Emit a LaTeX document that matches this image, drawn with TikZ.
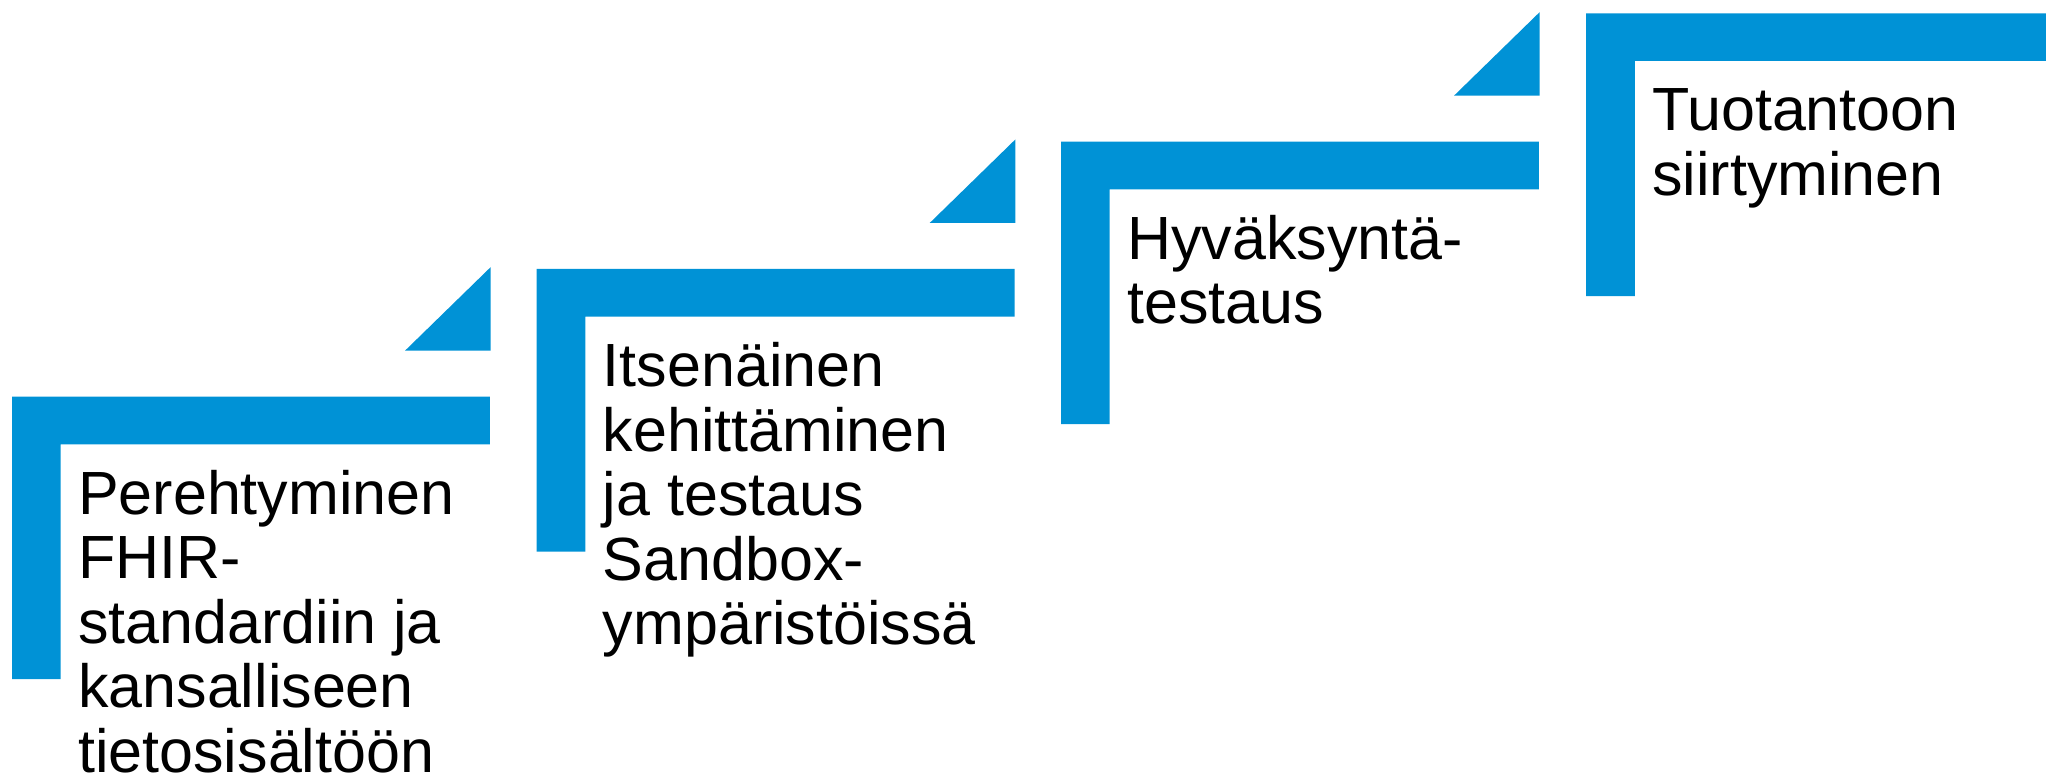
\documentclass[tikz,border=0pt]{standalone}
\usepackage{fontspec}
\setmainfont{Liberation Sans}
\definecolor{stepblue}{RGB}{0,146,214}
\begin{document}
\begin{tikzpicture}[x=1pt,y=-1pt,
  bar/.style={fill=stepblue},
  label/.style={anchor=base west, align=left, inner sep=0pt, font=\fontsize{61}{64.5}\selectfont}]
\useasboundingbox (0,0) rectangle (2046,778);
% step shapes: L-shapes and triangles
\foreach \L/\T [count=\i] in {12/396.7, 536.7/269, 1061/141.7}{
  \fill[bar] (\L,\T) -- (\L+477.8,\T) -- (\L+477.8,\T+47.6) -- (\L+48.7,\T+47.6)
     -- (\L+48.7,\T+282.5) -- (\L,\T+282.5) -- cycle;
  \fill[bar] (\L+393,\T-46) -- (\L+478.6,\T-46) -- (\L+478.6,\T-129.5) -- cycle;
}
\fill[bar] (1586,13.3) -- (2046,13.3) -- (2046,61) -- (1634.8,61) -- (1634.8,296) -- (1586,296) -- cycle;
% labels (base anchor sits on the last line's baseline)
\node[label] (s1) at (12+66,396.7+117.5+4*64.5) {Perehtyminen\\FHIR-\\standardiin ja\\kansalliseen\\tietosisältöön};
\node[label] (s2) at (536.7+66,269+117.5+4*64.5) {Itsenäinen\\kehittäminen\\ja testaus\\Sandbox-\\ympäristöissä};
\node[label] (s3) at (1061+66,141.7+117.5+64.5) {Hyväksyntä-\\testaus};
\node[label] (s4) at (1586+66,13.3+117.5+64.5) {Tuotantoon\\siirtyminen};
\end{tikzpicture}
\end{document}
